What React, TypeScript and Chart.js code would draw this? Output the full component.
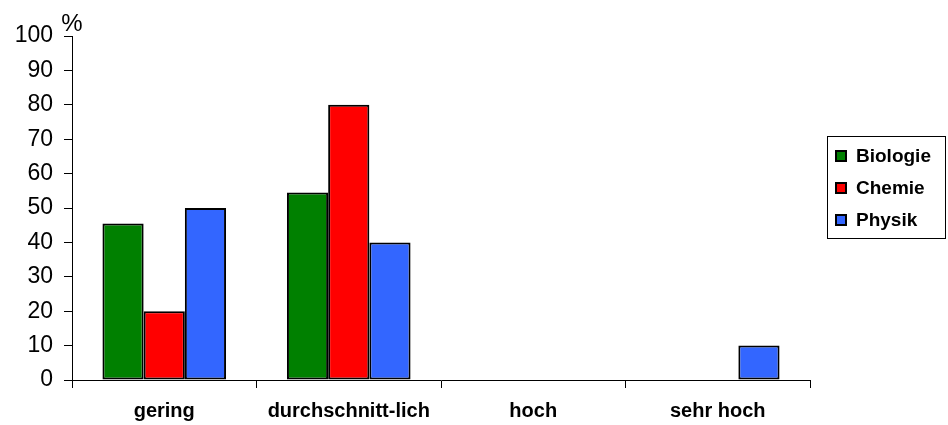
import React, { useEffect, useRef } from "react";
import { Chart, registerables } from "chart.js";

Chart.register(...registerables);

const categories = ["gering", "durchschnitt-lich", "hoch", "sehr hoch"];
const biologie = [45.5, 54.5, 0, 0];
const chemie = [20, 80, 0, 0];
const physik = [50, 40, 0, 10];
const seriesNames = ["Biologie", "Chemie", "Physik"];
const seriesColors = ["#008000", "#FF0000", "#3366FF"];
const yTicks = [0, 10, 20, 30, 40, 50, 60, 70, 80, 90, 100];

const FONT = "Arial, 'Liberation Sans', sans-serif";

const extrasPlugin = {
  id: "extras",
  afterDraw(chart: any) {
    const ctx = chart.ctx;
    const area = chart.chartArea;
    ctx.save();
    // "%" label
    ctx.fillStyle = "#000";
    ctx.font = `24px ${FONT}`;
    ctx.textAlign = "center";
    ctx.textBaseline = "alphabetic";
    ctx.fillText("%", area.left, area.top - 5);
    // legend
    const lx = 827, ly = 136, lw = 118, lh = 102;
    ctx.strokeStyle = "#000";
    ctx.lineWidth = 1;
    ctx.strokeRect(lx + 0.5, ly + 0.5, lw, lh);
    ctx.font = `bold 19px ${FONT}`;
    ctx.textAlign = "left";
    ctx.textBaseline = "middle";
    chart.data.datasets.forEach((ds: any, i: number) => {
      const cy = ly + 20 + i * 32;
      ctx.fillStyle = ds.backgroundColor;
      ctx.fillRect(lx + 9, cy - 5, 10, 10);
      ctx.lineWidth = 2;
      ctx.strokeStyle = "#000";
      ctx.strokeRect(lx + 9, cy - 5, 10, 10);
      ctx.fillStyle = "#000";
      ctx.fillText(ds.label, lx + 29, cy + 1);
    });
    ctx.restore();
  },
};

export default function App() {
  const ref = useRef<HTMLCanvasElement>(null);
  useEffect(() => {
    const data = [biologie, chemie, physik];
    const chart = new Chart(ref.current!, {
      type: "bar",
      data: {
        labels: categories,
        datasets: seriesNames.map((name, i) => ({
          label: name,
          data: data[i],
          backgroundColor: seriesColors[i],
          borderColor: "#000",
          borderWidth: (c: any) => (c.raw === 0 ? 0 : 2),
          borderSkipped: false,
          categoryPercentage: 0.67,
          barPercentage: 1,
        })),
      },
      options: {
        animation: false,
        responsive: false,
        maintainAspectRatio: false,
        layout: { padding: { left: 0, right: 138, top: 36, bottom: 0 } },
        plugins: { legend: { display: false }, tooltip: { enabled: false } },
        scales: {
          x: {
            afterFit: (axis: any) => {
              axis.height = 45;
            },
            grid: {
              offset: true,
              drawOnChartArea: false,
              drawTicks: true,
              tickLength: 8,
              color: "#000",
            },
            border: { color: "#000", width: 1 },
            ticks: {
              color: "#000",
              font: { family: FONT, size: 20, weight: "bold", lineHeight: 1.2 },
              padding: 11,
              maxRotation: 0,
              autoSkip: false,
            },
          },
          y: {
            min: 0,
            max: 100,
            afterFit: (axis: any) => {
              axis.width = 72;
            },
            afterBuildTicks: (axis: any) => {
              axis.ticks = yTicks.map((v) => ({ value: v }));
            },
            grid: {
              drawOnChartArea: false,
              drawTicks: true,
              tickLength: 8,
              color: "#000",
            },
            border: { color: "#000", width: 1 },
            ticks: {
              color: "#000",
              font: { family: FONT, size: 23 },
              padding: 11,
            },
          },
        },
      },
      plugins: [extrasPlugin],
    } as any);
    return () => chart.destroy();
  }, []);
  return (
    <div style={{ position: "absolute", left: 0, top: 0, width: 948, height: 425, background: "#fff" }}>
      <canvas ref={ref} width={948} height={425} style={{ width: 948, height: 425 }} />
    </div>
  );
}
